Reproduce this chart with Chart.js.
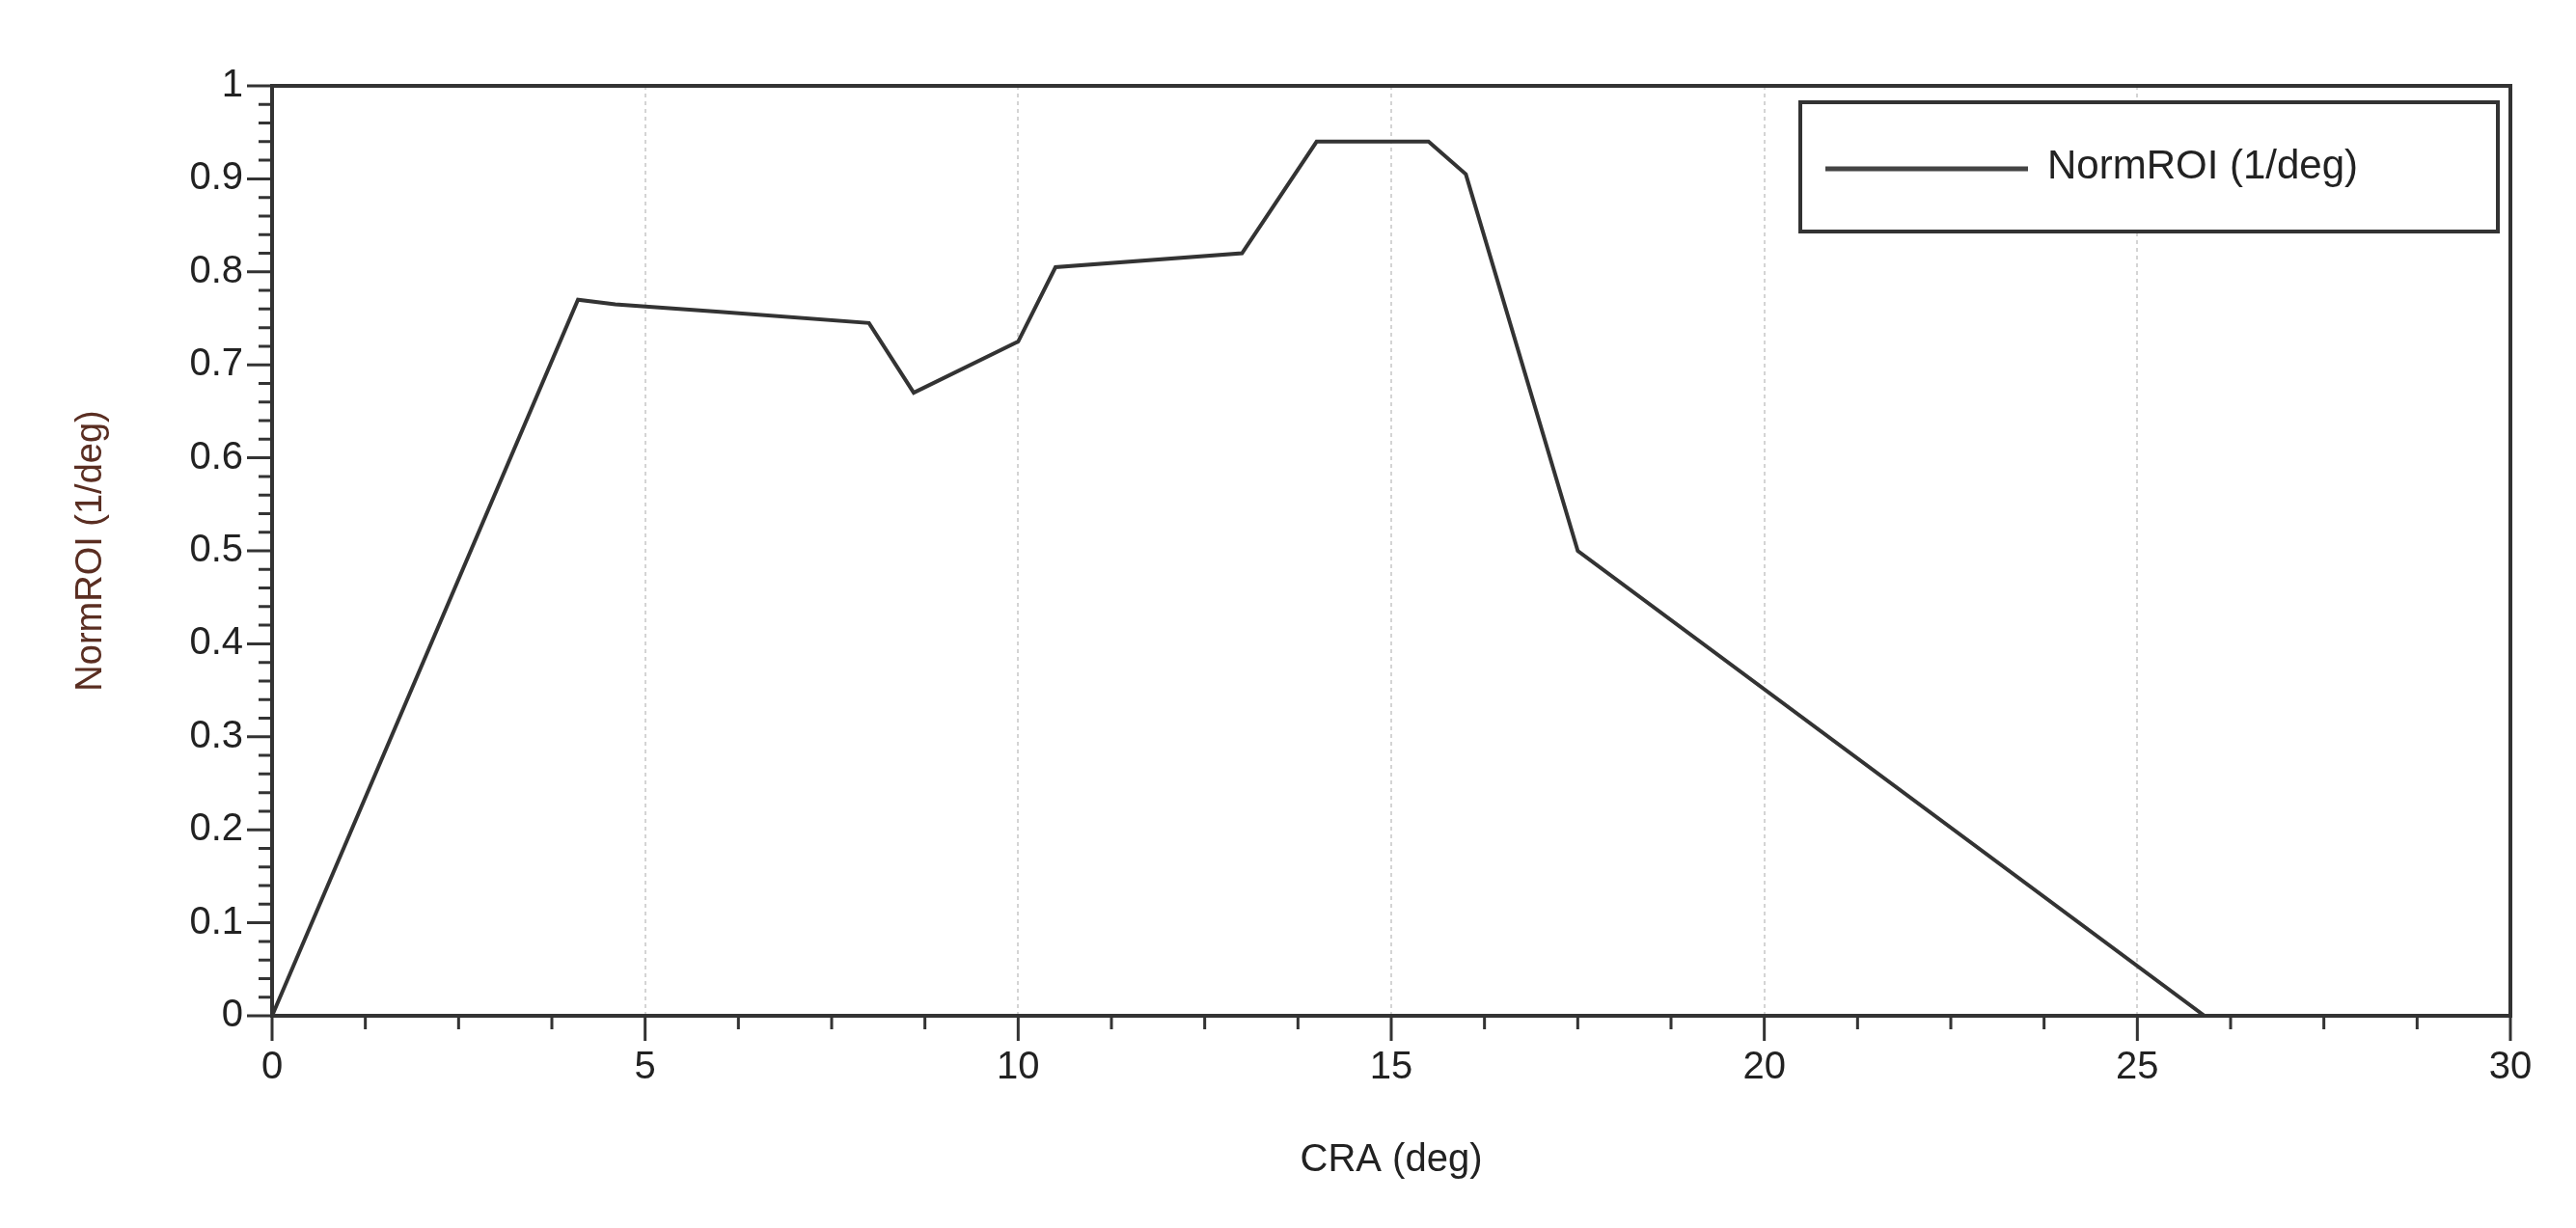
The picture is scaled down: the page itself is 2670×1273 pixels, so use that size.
<!DOCTYPE html>
<html>
<head>
<meta charset="utf-8">
<script src="https://cdn.jsdelivr.net/npm/chart.js@4"></script>
<style>
  html, body { margin: 0; padding: 0; background: #fff; }
  #wrap { width: 2670px; height: 1273px; }
</style>
</head>
<body>
<div id="wrap"><canvas id="roiChart"></canvas></div>
<script>
// CRA (deg) and NormROI (1/deg)
const craValues = [0, 4.1, 4.6, 6, 8, 8.6, 10, 10.5, 13, 14, 15.5, 16, 17.5, 25.9, 30];
const roiValues = [0, 0.77, 0.765, 0.757, 0.745, 0.67, 0.725, 0.805, 0.82, 0.94, 0.94, 0.905, 0.5, 0, 0];
const xMajorTicks = [0, 5, 10, 15, 20, 25, 30];
const yMajorTicks = [0, 0.1, 0.2, 0.3, 0.4, 0.5, 0.6, 0.7, 0.8, 0.9, 1];
const seriesLabel = "NormROI (1/deg)";

const FONT = "'Liberation Sans', Arial, sans-serif";

// frame, outside tick marks and legend box
const framePlugin = {
    id: "frame",
    afterDraw(chart) {
        const ctx = chart.ctx;
        const a = chart.chartArea;
        const xs = chart.scales.x, ys = chart.scales.y;
        ctx.save();
        ctx.strokeStyle = "#333";
        ctx.lineWidth = 4;
        ctx.strokeRect(a.left, a.top, a.right - a.left, a.bottom - a.top);

        ctx.lineWidth = 3;
        ctx.beginPath();
        for (let v = 0; v <= 30.001; v += 1.25) {
            const px = xs.getPixelForValue(v);
            const len = (Math.abs(v % 5) < 0.001) ? 26 : 14;
            ctx.moveTo(px, a.bottom);
            ctx.lineTo(px, a.bottom + len);
        }
        for (let i = 0; i <= 50; i++) {
            const v = i * 0.02;
            const py = ys.getPixelForValue(v);
            const len = (i % 5 === 0) ? 26 : 14;
            ctx.moveTo(a.left, py);
            ctx.lineTo(a.left - len, py);
        }
        ctx.stroke();

        // legend
        const lx = 1866, ly = 106, lw = 723, lh = 134;
        ctx.lineWidth = 4;
        ctx.fillStyle = "#fff";
        ctx.fillRect(lx, ly, lw, lh);
        ctx.strokeRect(lx, ly, lw, lh);
        ctx.lineWidth = 5;
        ctx.strokeStyle = "#444";
        ctx.beginPath();
        ctx.moveTo(1892, ly + lh / 2 + 2);
        ctx.lineTo(2102, ly + lh / 2 + 2);
        ctx.stroke();
        ctx.fillStyle = "#222";
        ctx.font = "42px " + FONT;
        ctx.textBaseline = "middle";
        ctx.fillText(seriesLabel, 2122, ly + lh / 2);
        ctx.restore();
    }
};

new Chart(document.getElementById("roiChart"), {
    type: "line",
    data: {
        datasets: [{
            label: seriesLabel,
            data: craValues.map((x, i) => ({ x: x, y: roiValues[i] })),
            borderColor: "#333",
            borderWidth: 4,
            pointRadius: 0,
            tension: 0,
            fill: false
        }]
    },
    options: {
        responsive: true,
        maintainAspectRatio: false,
        animation: false,
        layout: { padding: { left: 0, right: 68, top: 89, bottom: 0 } },
        plugins: { legend: { display: false }, tooltip: { enabled: false } },
        scales: {
            x: {
                type: "linear",
                min: 0, max: 30,
                afterBuildTicks: s => { s.ticks = xMajorTicks.map(v => ({ value: v })); },
                afterFit: s => { s.height = 220; },
                grid: { display: true, drawTicks: false, color: "#d4d4d4", lineWidth: 2 },
                border: { display: false, dash: [4, 4] },
                ticks: { padding: 30, color: "#222", font: { family: FONT, size: 40 } },
                title: { display: true, text: "CRA (deg)", color: "#222",
                         font: { family: FONT, size: 40 }, padding: { top: 0, bottom: 46 } }
            },
            y: {
                min: 0, max: 1,
                afterBuildTicks: s => { s.ticks = yMajorTicks.map(v => ({ value: v })); },
                afterFit: s => { s.width = 282; },
                grid: { display: false, drawTicks: false },
                border: { display: false },
                ticks: { padding: 30, color: "#222", font: { family: FONT, size: 40 },
                         callback: v => String(Math.round(v * 10) / 10) },
                title: { display: true, text: "NormROI (1/deg)", color: "#5a2e22",
                         font: { family: FONT, size: 38 }, padding: { top: 72, bottom: 0 } }
            }
        }
    },
    plugins: [framePlugin]
});
</script>
</body>
</html>
